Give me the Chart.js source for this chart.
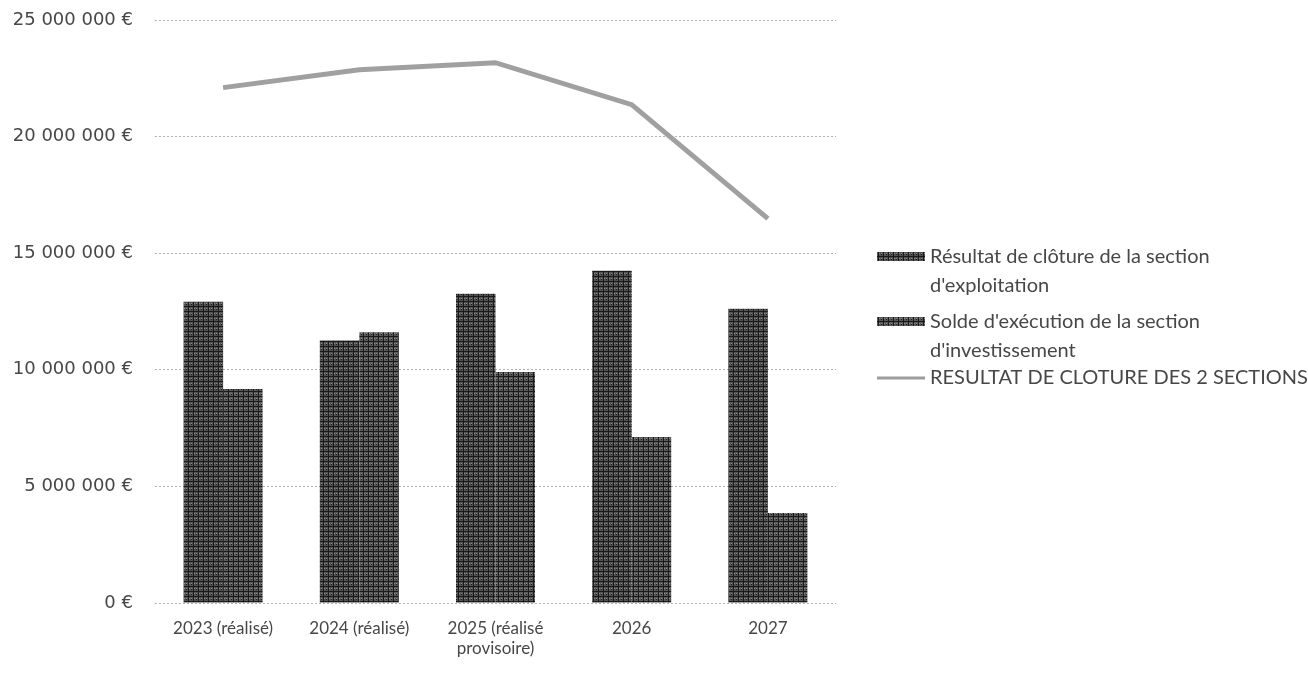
<!DOCTYPE html>
<html lang="fr">
<head>
<meta charset="utf-8">
<title>Résultats de clôture</title>
<script src="https://cdn.jsdelivr.net/npm/chart.js@4.4.1/dist/chart.umd.min.js"></script>
<style>
  html, body { margin: 0; padding: 0; background: #ffffff; }
  #wrap { position: relative; width: 1308px; height: 675px; }
</style>
</head>
<body>
<div id="wrap"><canvas id="chart" width="1308" height="675"></canvas></div>
<script>
// Années (libellés de l'axe horizontal, sur une ou deux lignes)
const categories = [
  '2023 (réalisé)',
  '2024 (réalisé)',
  ['2025 (réalisé', 'provisoire)'],
  '2026',
  '2027'
];

// Résultat de clôture de la section d'exploitation (€)
const exploitation = [12920000, 11260000, 13260000, 14250000, 12620000];
// Solde d'exécution de la section d'investissement (€)
const investissement = [9180000, 11610000, 9910000, 7120000, 3860000];
// Résultat de clôture des 2 sections (€)
const resultatTotal = [22100000, 22870000, 23170000, 21370000, 16480000];

// Graduations de l'axe vertical (€)
const yTicks = [0, 5000000, 10000000, 15000000, 20000000, 25000000];

const seriesNames = [
  ["Résultat de clôture de la section", "d'exploitation"],
  ["Solde d'exécution de la section", "d'investissement"],
  ['RESULTAT DE CLOTURE DES 2 SECTIONS']
];

const TEXT = '#474747';

// Trame grise façon impression pour le remplissage des barres
function makeTexture(base) {
  const c = document.createElement('canvas');
  c.width = 5; c.height = 5;
  const g = c.getContext('2d');
  g.fillStyle = base;
  g.fillRect(0, 0, 5, 5);
  g.fillStyle = '#1a1a1a';
  g.fillRect(0, 1, 5, 1);
  g.fillRect(3, 0, 1, 5);
  g.fillRect(1, 4, 1, 1);
  g.fillStyle = '#8c8c8c';
  g.fillRect(1, 3, 1, 1);
  g.fillRect(4, 3, 1, 1);
  return g.createPattern(c, 'repeat');
}
const fillA = makeTexture('#525252');
const fillB = makeTexture('#5a5a5a');

function formatEuro(v) {
  if (v === 0) return '0 €';
  return String(Math.round(v)).replace(/\B(?=(\d{3})+(?!\d))/g, ' ') + ' €';
}

// Légende dessinée à droite du graphique, libellés sur plusieurs lignes
const sideLegend = {
  id: 'sideLegend',
  afterDraw(chart) {
    const ctx = chart.ctx;
    const x0 = chart.chartArea.right + 41;
    const textX = x0 + 53;
    const lineH = 29;
    const rows = [
      { y: 257, kind: 'box', fill: fillA },
      { y: 322, kind: 'box', fill: fillB },
      { y: 378, kind: 'line' }
    ];
    ctx.save();
    ctx.font = '20px Lato, "Noto Sans", sans-serif';
    ctx.textBaseline = 'middle';
    ctx.textAlign = 'left';
    rows.forEach((r, i) => {
      if (r.kind === 'box') {
        ctx.fillStyle = r.fill;
        ctx.fillRect(x0, r.y - 5, 48, 9);
      } else {
        ctx.strokeStyle = '#9c9c9c';
        ctx.lineWidth = 3;
        ctx.beginPath();
        ctx.moveTo(x0, r.y);
        ctx.lineTo(x0 + 48, r.y);
        ctx.stroke();
      }
      ctx.fillStyle = TEXT;
      seriesNames[i].forEach((t, k) => {
        ctx.fillText(t, textX, r.y + k * lineH);
      });
    });
    ctx.restore();
  }
};

new Chart(document.getElementById('chart'), {
  data: {
    labels: categories,
    datasets: [
      {
        type: 'line',
        label: seriesNames[2].join(' '),
        data: resultatTotal,
        borderColor: '#a0a0a0',
        borderWidth: 5,
        pointRadius: 0,
        tension: 0,
        order: 0
      },
      {
        type: 'bar',
        label: seriesNames[0].join(' '),
        data: exploitation,
        backgroundColor: fillA,
        borderWidth: 0,
        categoryPercentage: 0.58,
        barPercentage: 1.0,
        order: 1
      },
      {
        type: 'bar',
        label: seriesNames[1].join(' '),
        data: investissement,
        backgroundColor: fillB,
        borderWidth: 0,
        categoryPercentage: 0.58,
        barPercentage: 1.0,
        order: 1
      }
    ]
  },
  options: {
    responsive: false,
    animation: false,
    devicePixelRatio: 1,
    layout: { padding: { left: 10, right: 472, top: 20, bottom: 0 } },
    plugins: {
      legend: { display: false },
      tooltip: { enabled: false }
    },
    scales: {
      x: {
        grid: { display: false, drawTicks: false },
        border: { display: false },
        ticks: {
          color: TEXT,
          font: { family: 'Lato, "Open Sans", sans-serif', size: 17 },
          padding: 15,
          maxRotation: 0,
          autoSkip: false
        },
        afterFit(scale) { scale.height = 72; }
      },
      y: {
        min: 0,
        max: 25000000,
        afterBuildTicks(scale) { scale.ticks = yTicks.map(v => ({ value: v })); },
        grid: {
          color: '#b0b0b0',
          lineWidth: 1,
          drawTicks: false
        },
        border: { display: false, dash: [2, 2] },
        ticks: {
          color: TEXT,
          font: { family: '"DejaVu Sans", sans-serif', size: 18 },
          padding: 22,
          callback: v => formatEuro(v)
        },
        afterFit(scale) {
          scale.width = 145;
          scale.paddingTop = 0;
          scale.paddingBottom = 0;
        }
      }
    }
  },
  plugins: [sideLegend]
});
</script>
</body>
</html>
